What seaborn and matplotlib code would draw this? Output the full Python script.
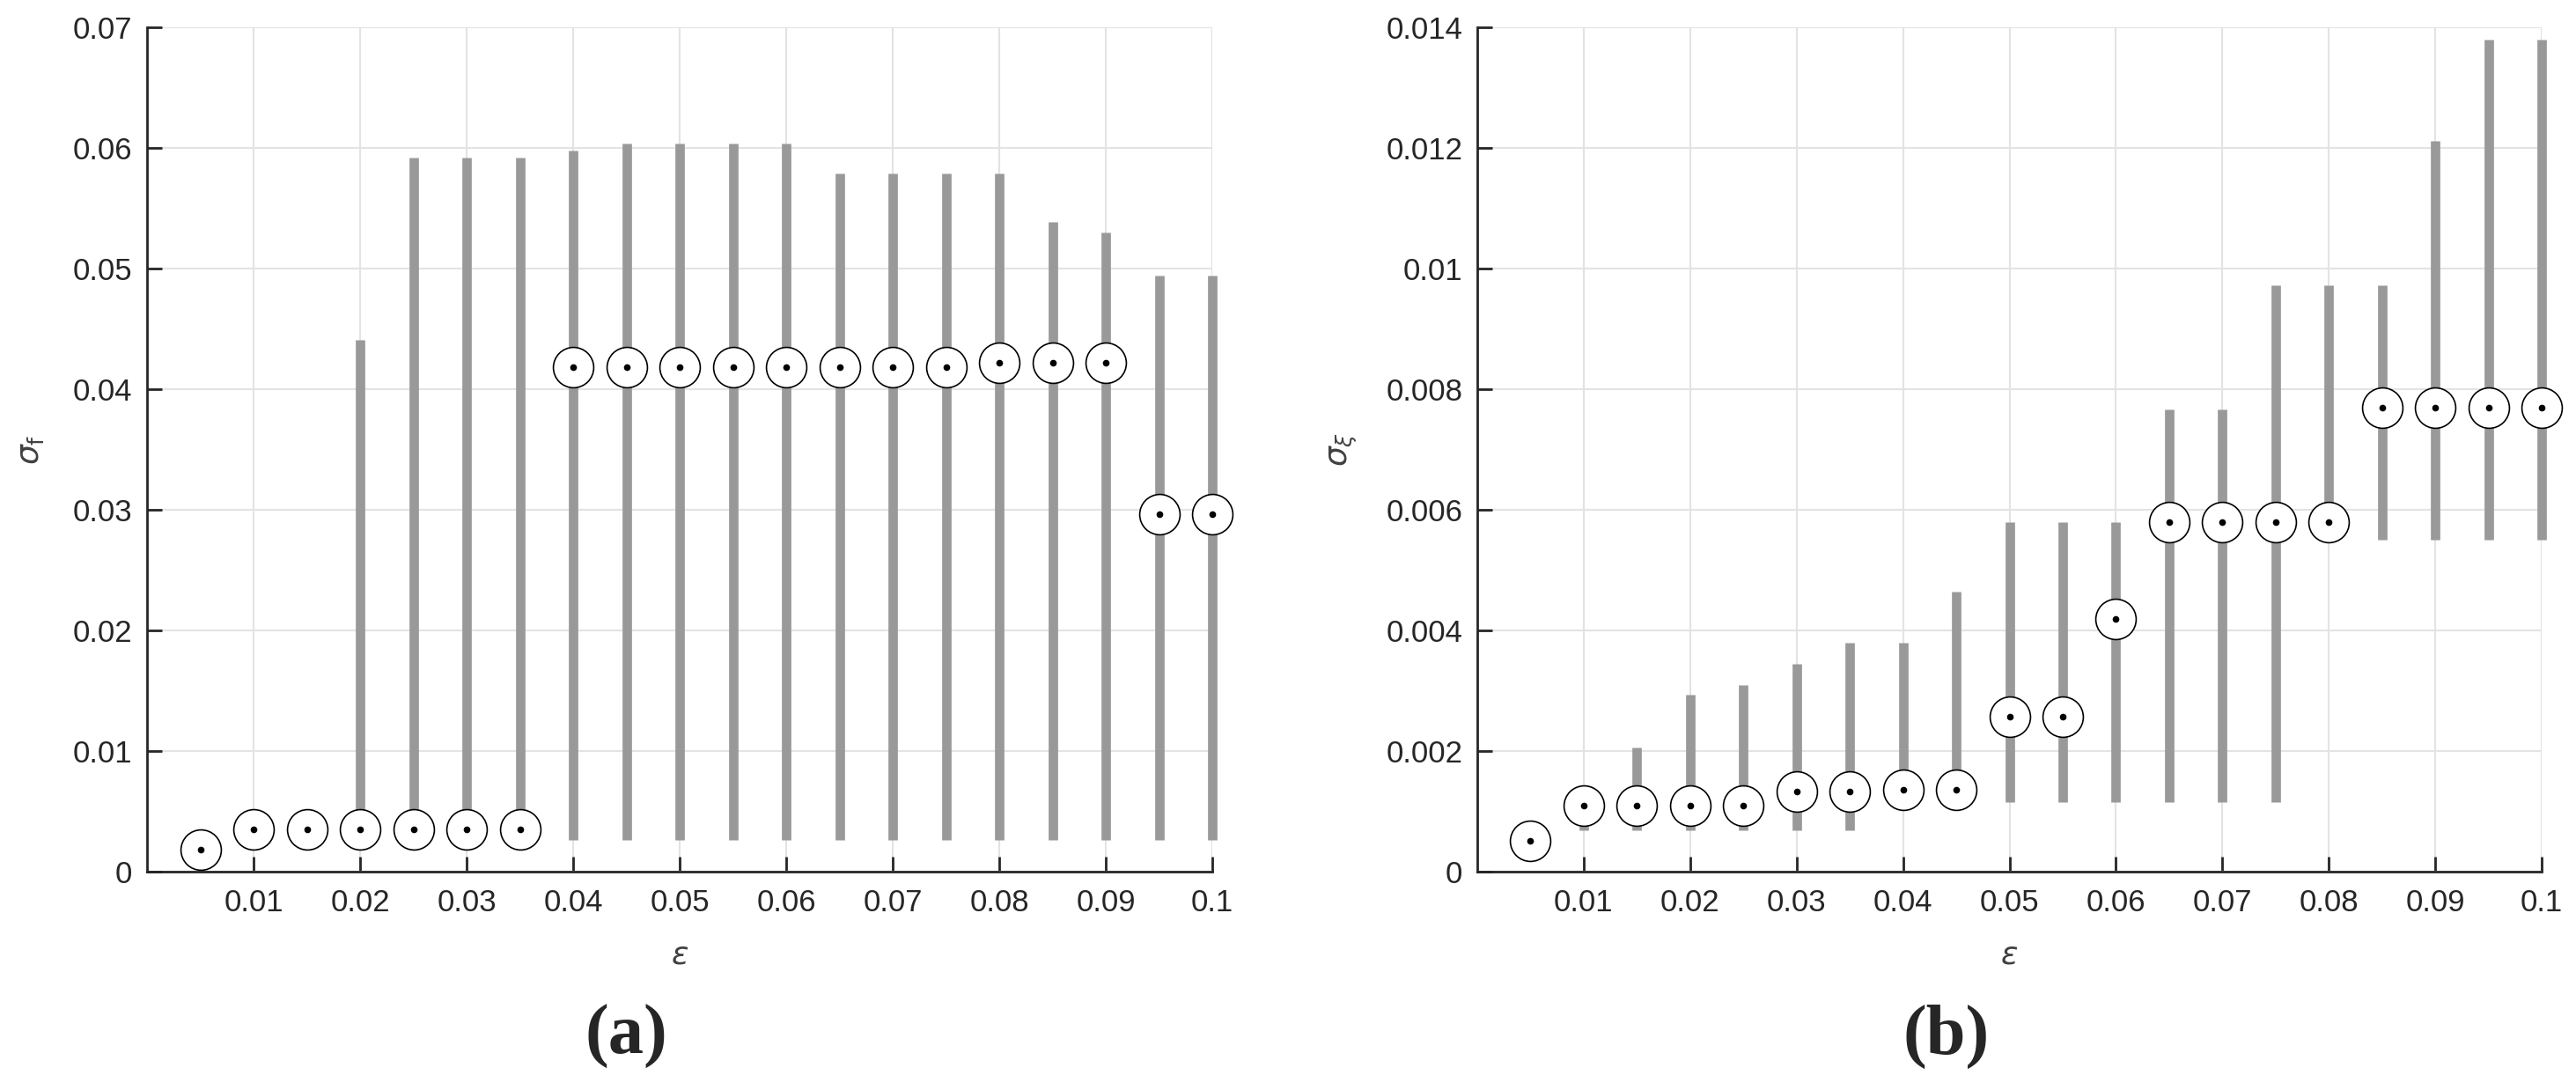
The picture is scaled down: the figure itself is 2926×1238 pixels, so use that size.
import numpy as np
import pandas as pd
import matplotlib
matplotlib.use("Agg")
import matplotlib.pyplot as plt
import seaborn as sns

# ---------------- data ----------------
eps = [0.005, 0.010, 0.015, 0.020, 0.025, 0.030, 0.035, 0.040, 0.045, 0.050,
       0.055, 0.060, 0.065, 0.070, 0.075, 0.080, 0.085, 0.090, 0.095, 0.100]

# panel (a): sigma_f
a_med = [0.0018, 0.0035, 0.0035, 0.0035, 0.0035, 0.0035, 0.0035, 0.0418, 0.0418, 0.0418,
         0.0418, 0.0418, 0.0418, 0.0418, 0.0418, 0.0422, 0.0422, 0.0422, 0.0296, 0.0296]
a_lo = [0.0018, 0.0035, 0.0035, 0.0035, 0.0035, 0.0035, 0.0035, 0.0026, 0.0026, 0.0026,
        0.0026, 0.0026, 0.0026, 0.0026, 0.0026, 0.0026, 0.0026, 0.0026, 0.0026, 0.0026]
a_hi = [0.0018, 0.0035, 0.0035, 0.0441, 0.0592, 0.0592, 0.0592, 0.0598, 0.0604, 0.0604,
        0.0604, 0.0604, 0.0579, 0.0579, 0.0579, 0.0579, 0.0539, 0.0530, 0.0494, 0.0494]

# panel (b): sigma_xi
b_med = [0.00051, 0.00109, 0.00109, 0.00109, 0.00109, 0.00133, 0.00133, 0.00136, 0.00136, 0.00257,
         0.00257, 0.00419, 0.00580, 0.00580, 0.00580, 0.00580, 0.00769, 0.00769, 0.00769, 0.00769]
b_lo = [0.00051, 0.00068, 0.00068, 0.00068, 0.00068, 0.00068, 0.00068, 0.00120, 0.00120, 0.00116,
        0.00116, 0.00116, 0.00116, 0.00116, 0.00116, 0.00580, 0.00551, 0.00551, 0.00551, 0.00551]
b_hi = [0.00051, 0.00109, 0.00206, 0.00294, 0.00309, 0.00345, 0.00379, 0.00379, 0.00464, 0.00579,
        0.00579, 0.00579, 0.00767, 0.00767, 0.00972, 0.00972, 0.00972, 0.01211, 0.01380, 0.01380]

xticks = [0.01, 0.02, 0.03, 0.04, 0.05, 0.06, 0.07, 0.08, 0.09, 0.1]
xticklabels = ["0.01", "0.02", "0.03", "0.04", "0.05", "0.06", "0.07", "0.08", "0.09", "0.1"]
a_yticks = [0, 0.01, 0.02, 0.03, 0.04, 0.05, 0.06, 0.07]
a_yticklabels = ["0", "0.01", "0.02", "0.03", "0.04", "0.05", "0.06", "0.07"]
b_yticks = [0, 0.002, 0.004, 0.006, 0.008, 0.010, 0.012, 0.014]
b_yticklabels = ["0", "0.002", "0.004", "0.006", "0.008", "0.01", "0.012", "0.014"]

# ---------------- style ----------------
sns.set_theme(style="white")
plt.rcParams["font.family"] = ["Liberation Sans", "DejaVu Sans"]
plt.rcParams["mathtext.fontset"] = "dejavusans"

fig = plt.figure(figsize=(29.26, 12.38), dpi=100)
ax_a = fig.add_axes([167 / 2926, 248 / 1238, 1210 / 2926, 959 / 1238])
ax_b = fig.add_axes([1678 / 2926, 248 / 1238, 1209 / 2926, 959 / 1238])

AX_COL = "#262626"
BAR_COL = "#999999"


def draw(ax, med, lo, hi, ylim, yticks, yticklabels, ylabel):
    df = pd.DataFrame({"eps": eps, "med": med, "lo": lo, "hi": hi})
    ax.set_axisbelow(True)
    ax.grid(True, color="#e3e3e3", linewidth=1.5)
    ax.vlines(df["eps"], df["lo"], df["hi"], colors=BAR_COL, linewidth=7.7,
              zorder=2, capstyle="butt", clip_on=False)
    sns.scatterplot(data=df, x="eps", y="med", ax=ax, marker="o", s=33 ** 2,
                    facecolor="white", edgecolor="black", linewidth=1.2,
                    zorder=3, clip_on=False, legend=False)
    sns.scatterplot(data=df, x="eps", y="med", ax=ax, marker="o", s=5.5 ** 2,
                    color="black", linewidth=0, zorder=4, clip_on=False, legend=False)
    ax.set_xlim(0, 0.1)
    ax.set_ylim(*ylim)
    ax.set_xticks(xticks)
    ax.set_xticklabels(xticklabels)
    ax.set_yticks(yticks)
    ax.set_yticklabels(yticklabels)
    ax.tick_params(axis="both", direction="in", length=12, width=2, colors=AX_COL,
                   labelsize=25, pad=14, bottom=True, left=True)
    ax.tick_params(axis="y", pad=12)
    for s in ["top", "right"]:
        ax.spines[s].set_visible(False)
    for s in ["left", "bottom"]:
        ax.spines[s].set_color(AX_COL)
        ax.spines[s].set_linewidth(2)
    ax.set_xlabel(r"$\epsilon$", fontsize=26, color="#404040", labelpad=18)
    ax.set_ylabel(ylabel, fontsize=26, color="#404040", labelpad=22)


draw(ax_a, a_med, a_lo, a_hi, (0, 0.07), a_yticks, a_yticklabels, r"$\sigma_{\mathrm{f}}$")
draw(ax_b, b_med, b_lo, b_hi, (0, 0.014), b_yticks, b_yticklabels, r"$\sigma_{\xi}$")

fig.text(711 / 2926, 1 - 1177 / 1238, "(a)", ha="center", va="center",
         fontsize=58, fontweight="bold", family=["Liberation Serif", "DejaVu Serif"])
fig.text(2211 / 2926, 1 - 1177 / 1238, "(b)", ha="center", va="center",
         fontsize=58, fontweight="bold", family=["Liberation Serif", "DejaVu Serif"])

fig.savefig("out.png", dpi=100, facecolor="white")
